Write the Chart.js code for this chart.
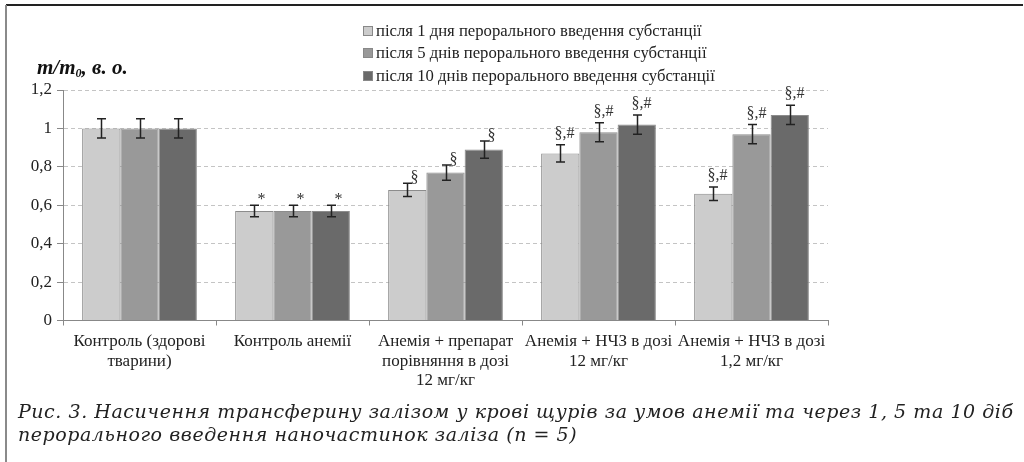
<!DOCTYPE html>
<html lang="uk">
<head>
<meta charset="utf-8">
<title>Насичення трансферину залізом</title>
<script src="https://cdn.jsdelivr.net/npm/chart.js@4"></script>
<style>
  html, body { margin: 0; padding: 0; background: #fff; }
  #wrap { position: relative; width: 1024px; height: 462px; }
  canvas { display: block; }
</style>
</head>
<body>
<div id="wrap"><canvas id="chart" width="1024" height="462"></canvas></div>
<script>
// Groups on the x axis (multi-line labels)
const categories = [
  ["Контроль (здорові", "тварини)"],
  ["Контроль анемії"],
  ["Анемія + препарат", "порівняння в дозі", "12 мг/кг"],
  ["Анемія + НЧЗ в дозі", "12 мг/кг"],
  ["Анемія + НЧЗ в дозі", "1,2 мг/кг"]
];

const seriesNames = [
  "після 1 дня перорального введення субстанції",
  "після 5 днів перорального введення субстанції",
  "після 10 днів перорального введення субстанції"
];

// Mean values, m/m0
const day1  = [1.00, 0.57, 0.68, 0.87, 0.66];
const day5  = [1.00, 0.57, 0.77, 0.98, 0.97];
const day10 = [1.00, 0.57, 0.89, 1.02, 1.07];

// Error bar half-widths
const err1  = [0.05, 0.03, 0.035, 0.045, 0.035];
const err5  = [0.05, 0.03, 0.04,  0.05,  0.05];
const err10 = [0.05, 0.03, 0.045, 0.05,  0.05];

// Significance marks
const marks1  = ["", "*", "§", "§,#", "§,#"];
const marks5  = ["", "*", "§", "§,#", "§,#"];
const marks10 = ["", "*", "§", "§,#", "§,#"];

const yTicks = [0, 0.2, 0.4, 0.6, 0.8, 1, 1.2];

const captionLines = [
  "Рис. 3. Насичення трансферину залізом у крові щурів за умов анемії та через 1, 5 та 10 діб",
  "перорального введення наночастинок заліза (n = 5)"
];

const fills = ["#cccccc", "#999999", "#6a6a6a"];
const SERIF = "'Liberation Serif', 'Times New Roman', serif";

const errorsBySeries = [err1, err5, err10];
const marksBySeries = [marks1, marks5, marks10];

// Error bars plus significance marks above them
const errorBarPlugin = {
  id: "errorBars",
  afterDatasetsDraw(chart) {
    const ctx = chart.ctx;
    const y = chart.scales.y;
    ctx.save();
    chart.data.datasets.forEach((ds, i) => {
      const meta = chart.getDatasetMeta(i);
      const errs = errorsBySeries[i];
      const marks = marksBySeries[i];
      meta.data.forEach((bar, j) => {
        const v = ds.data[j];
        const top = y.getPixelForValue(v + errs[j]);
        const bot = y.getPixelForValue(v - errs[j]);
        const x = Math.round(bar.x) + 0.5;
        ctx.strokeStyle = "#222";
        ctx.lineWidth = 1.5;
        ctx.beginPath();
        ctx.moveTo(x, top); ctx.lineTo(x, bot);
        ctx.moveTo(x - 4.5, top); ctx.lineTo(x + 4.5, top);
        ctx.moveTo(x - 4.5, bot); ctx.lineTo(x + 4.5, bot);
        ctx.stroke();
        const m = marks[j];
        if (m) {
          ctx.fillStyle = "#333";
          ctx.font = "16px " + SERIF;
          ctx.textAlign = "left";
          ctx.textBaseline = "alphabetic";
          if (m.length === 1) {
            ctx.fillText(m, x + 3, top - 1);
          } else {
            ctx.fillText(m, x - 6, top - 7);
          }
        }
      });
    });
    ctx.restore();
  }
};

// Frame, legend, axis title and caption
const decorPlugin = {
  id: "decor",
  afterDraw(chart) {
    const ctx = chart.ctx;
    ctx.save();
    // frame
    ctx.strokeStyle = "#222";
    ctx.lineWidth = 2;
    ctx.beginPath(); ctx.moveTo(6, 5); ctx.lineTo(1023, 5); ctx.stroke();
    ctx.strokeStyle = "#8a8a8a";
    ctx.beginPath(); ctx.moveTo(6, 5); ctx.lineTo(6, 462); ctx.stroke();

    // legend
    const rows = [31, 53, 76];
    ctx.font = "16.7px " + SERIF;
    ctx.textBaseline = "middle";
    ctx.textAlign = "left";
    chart.data.datasets.forEach((ds, i) => {
      const cy = rows[i];
      ctx.fillStyle = ds.backgroundColor;
      ctx.fillRect(363.5, cy - 4.5, 9, 9);
      ctx.strokeStyle = "#888";
      ctx.lineWidth = 1;
      ctx.strokeRect(363.5, cy - 4.5, 9, 9);
      ctx.fillStyle = "#222";
      ctx.fillText(ds.label, 376, cy + 1);
    });

    // y axis title: m/m0, в. о.
    ctx.fillStyle = "#111";
    ctx.textBaseline = "alphabetic";
    let tx = 37;
    const ty = 74;
    ctx.font = "italic bold 21px " + SERIF;
    ctx.fillText("m/m", tx, ty);
    tx += ctx.measureText("m/m").width;
    ctx.font = "italic bold 12px " + SERIF;
    ctx.fillText("0", tx, ty + 3);
    tx += ctx.measureText("0").width;
    ctx.font = "italic bold 21px " + SERIF;
    ctx.fillText(", в. о.", tx, ty);

    // caption, stretched across the frame width
    ctx.fillStyle = "#222";
    ctx.font = "italic 19px 'DejaVu Serif', serif";
    ctx.textBaseline = "middle";
    const target = 995;
    const w0 = ctx.measureText(captionLines[0]).width;
    const n = captionLines[0].length - 1;
    const spacing = Math.max(0, (target - w0) / n);
    ctx.letterSpacing = spacing.toFixed(2) + "px";
    ctx.fillText(captionLines[0], 18, 413);
    ctx.fillText(captionLines[1], 18, 436);
    ctx.restore();
  }
};

const chart = new Chart(document.getElementById("chart"), {
  type: "bar",
  data: {
    labels: categories,
    datasets: [
      { label: seriesNames[0], data: day1,  backgroundColor: fills[0] },
      { label: seriesNames[1], data: day5,  backgroundColor: fills[1] },
      { label: seriesNames[2], data: day10, backgroundColor: fills[2] }
    ].map(d => Object.assign(d, {
      borderColor: "#8c8c8c",
      borderWidth: 1,
      categoryPercentage: 0.75,
      barPercentage: 1.0
    }))
  },
  options: {
    responsive: false,
    animation: false,
    devicePixelRatio: 1,
    layout: { padding: { left: 0, top: 90, right: 196, bottom: 61.5 } },
    plugins: {
      legend: { display: false },
      title: { display: false },
      tooltip: { enabled: false }
    },
    scales: {
      x: {
        afterFit(s) { s.height = 80; },
        grid: {
          offset: true,
          drawOnChartArea: false,
          drawTicks: true,
          tickLength: 5,
          tickColor: "#888",
          color: "#888"
        },
        border: { color: "#888", width: 1 },
        ticks: {
          color: "#222",
          padding: 7,
          maxRotation: 0,
          autoSkip: false,
          font: { family: SERIF, size: 17, lineHeight: 1.12 }
        }
      },
      y: {
        min: 0,
        max: 1.2,
        afterFit(s) { s.width = 63; },
        afterBuildTicks(s) { s.ticks = yTicks.map(v => ({ value: v })); },
        grid: {
          color: c => (c.tick && c.tick.value === 0) ? "rgba(0,0,0,0)" : "#c4c4c4",
          tickColor: "#888",
          tickLength: 6,
          lineWidth: 1
        },
        border: { color: "#888", width: 1, dash: [4, 3] },
        ticks: {
          color: "#222",
          padding: 5,
          font: { family: SERIF, size: 17 },
          callback: v => String(Math.round(v * 10) / 10).replace(".", ",")
        }
      }
    }
  },
  plugins: [errorBarPlugin, decorPlugin]
});
</script>
</body>
</html>
